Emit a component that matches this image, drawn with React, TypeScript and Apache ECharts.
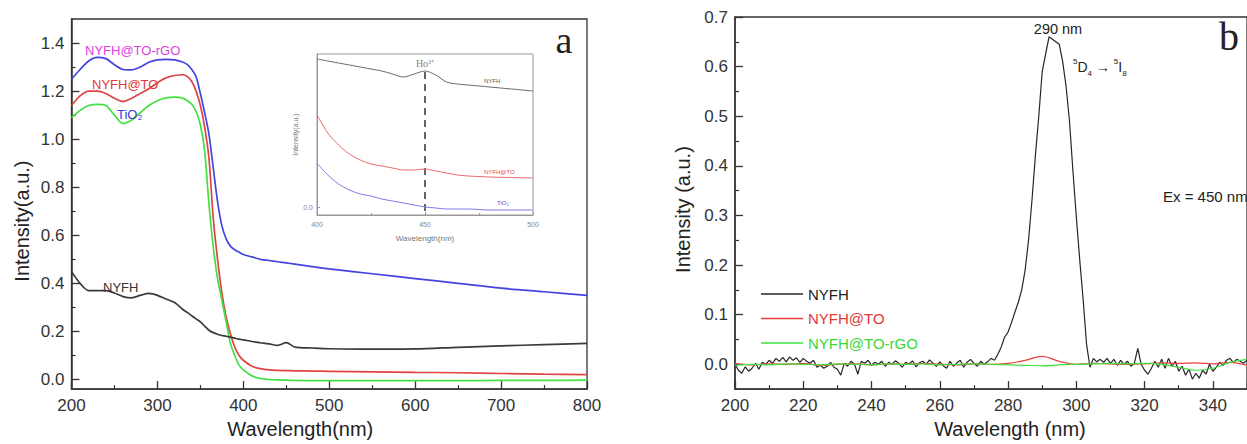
import React, { useEffect, useRef } from 'react';
import * as echarts from 'echarts';

// ---------- Panel a: UV-vis absorption ----------
const waveA = [200, 210, 220, 230, 240, 250, 260, 270, 280, 290, 300, 310, 320, 330, 335, 340, 345, 350, 355, 360, 365, 370, 375, 380, 385, 390, 395, 400, 410, 420, 430, 440, 450, 460, 480, 500, 550, 600, 650, 700, 750, 800];
const uvRGO = [1.25, 1.29, 1.325, 1.34, 1.335, 1.31, 1.29, 1.288, 1.30, 1.32, 1.33, 1.332, 1.33, 1.32, 1.31, 1.29, 1.26, 1.19, 1.11, 1.02, 0.88, 0.74, 0.64, 0.585, 0.555, 0.54, 0.53, 0.52, 0.51, 0.50, 0.495, 0.49, 0.485, 0.48, 0.47, 0.46, 0.44, 0.42, 0.40, 0.38, 0.365, 0.35];
const uvNYFHTO = [1.14, 1.18, 1.20, 1.20, 1.19, 1.17, 1.157, 1.17, 1.19, 1.21, 1.235, 1.255, 1.265, 1.268, 1.26, 1.24, 1.20, 1.14, 1.05, 0.92, 0.67, 0.50, 0.36, 0.26, 0.19, 0.135, 0.10, 0.08, 0.055, 0.045, 0.04, 0.038, 0.037, 0.036, 0.035, 0.034, 0.032, 0.03, 0.028, 0.025, 0.022, 0.02];
const uvTiO2 = [1.09, 1.12, 1.14, 1.145, 1.14, 1.10, 1.065, 1.08, 1.11, 1.14, 1.16, 1.172, 1.175, 1.17, 1.16, 1.145, 1.115, 1.06, 0.95, 0.73, 0.55, 0.42, 0.33, 0.24, 0.15, 0.10, 0.06, 0.04, 0.015, 0.004, 0.0, -0.002, -0.003, -0.004, -0.005, -0.005, -0.005, -0.005, -0.005, -0.004, -0.004, -0.003];
const uvNYFH = [0.45, 0.40, 0.37, 0.37, 0.37, 0.36, 0.345, 0.34, 0.35, 0.358, 0.35, 0.335, 0.32, 0.29, 0.278, 0.265, 0.252, 0.24, 0.222, 0.205, 0.195, 0.188, 0.183, 0.18, 0.176, 0.172, 0.168, 0.165, 0.158, 0.153, 0.148, 0.142, 0.153, 0.135, 0.131, 0.128, 0.126, 0.127, 0.134, 0.14, 0.145, 0.15];
const yTicksA = [0, 0.2, 0.4, 0.6, 0.8, 1.0, 1.2, 1.4];
const yMinorA = [0.1, 0.3, 0.5, 0.7, 0.9, 1.1, 1.3];

// ---------- Inset ----------
const waveInset = [400, 405, 410, 415, 420, 425, 430, 435, 440, 445, 450, 455, 460, 465, 470, 480, 490, 500];
const insetNYFH = [1.48, 1.46, 1.44, 1.42, 1.40, 1.38, 1.36, 1.33, 1.30, 1.33, 1.36, 1.32, 1.25, 1.23, 1.22, 1.20, 1.18, 1.16];
const insetNYFHTO = [0.92, 0.74, 0.62, 0.53, 0.47, 0.43, 0.41, 0.39, 0.37, 0.37, 0.38, 0.36, 0.34, 0.32, 0.31, 0.30, 0.295, 0.29];
const insetTiO2 = [0.44, 0.32, 0.23, 0.17, 0.13, 0.11, 0.08, 0.06, 0.04, 0.02, 0.0, -0.01, -0.02, -0.02, -0.02, -0.03, -0.03, -0.03];
const hoLine = { x: 450, top: 1.35, bottom: -0.08 };

// ---------- Panel b: PL emission ----------
const waveB = Array.from({ length: 151 }, (_, i) => 200 + i);
const plNYFH = [
  0.000, -0.012, -0.018, -0.005, -0.014, -0.008, 0.002, -0.010, 0.004, 0.000,
  0.008, 0.002, 0.012, 0.006, 0.014, 0.005, 0.015, 0.008, 0.013, 0.004,
  0.012, 0.006, 0.002, 0.008, -0.006, -0.002, -0.008, -0.004, 0.004, -0.006,
  -0.010, -0.022, 0.002, -0.004, 0.006, 0.000, -0.020, 0.006, 0.002, 0.008,
  -0.002, 0.004, 0.000, 0.006, -0.004, 0.004, 0.000, 0.007, 0.002, -0.006,
  0.004, 0.000, 0.007, -0.005, 0.003, 0.006, 0.000, 0.009, 0.002, -0.004,
  0.005, -0.003, -0.008, 0.006, -0.004, 0.003, 0.008, -0.006, 0.004, 0.010,
  0.002, -0.004, 0.006, 0.000, 0.005, 0.012, 0.008, 0.020, 0.035, 0.055,
  0.065, 0.084, 0.105, 0.125, 0.150, 0.190, 0.250, 0.330, 0.420, 0.500,
  0.590, 0.625, 0.660, 0.655, 0.650, 0.645, 0.610, 0.560, 0.490, 0.390,
  0.297, 0.210, 0.130, 0.040, -0.006, 0.012, 0.005, 0.010, 0.004, 0.012,
  0.002, 0.010, -0.002, 0.008, 0.000, 0.006, -0.004, 0.002, 0.032, 0.000,
  -0.012, -0.020, -0.008, 0.006, -0.006, 0.010, -0.008, 0.012, -0.004, 0.006,
  -0.014, -0.004, -0.022, -0.010, -0.030, -0.018, -0.028, -0.012, -0.020, 0.000,
  -0.014, -0.006, 0.004, -0.002, 0.008, 0.012, 0.004, 0.010, 0.006, 0.002, 0.008,
];
const waveB5 = [200, 205, 210, 215, 220, 225, 230, 235, 240, 245, 250, 255, 260, 265, 270, 275, 280, 285, 290, 295, 300, 305, 310, 315, 320, 325, 330, 335, 340, 345, 350];
const plNYFHTO = [0.002, -0.001, 0.001, 0.0, 0.002, -0.002, 0.0, 0.001, -0.001, 0.001, 0.0, 0.002, 0.0, -0.001, 0.001, 0.0, 0.002, 0.008, 0.016, 0.006, 0.0, 0.002, 0.001, 0.0, 0.001, 0.003, 0.002, 0.003, 0.001, 0.004, -0.002];
const plRGO = [-0.002, 0.0, -0.001, 0.001, 0.0, -0.001, 0.001, 0.0, -0.001, 0.001, 0.0, 0.001, -0.001, 0.0, 0.001, 0.0, -0.001, -0.002, -0.003, -0.001, 0.0, 0.001, 0.002, 0.001, 0.002, 0.0, -0.006, -0.012, -0.008, 0.004, 0.010];
const yTicksB = [0, 0.1, 0.2, 0.3, 0.4, 0.5, 0.6, 0.7];
const yMinorB = [0.05, 0.15, 0.25, 0.35, 0.45, 0.55, 0.65];

const FONT = '"Liberation Sans", Arial, sans-serif';
const SERIF = '"Liberation Serif", "Times New Roman", serif';
const AX = '#333';
const BLUE = '#4444e0';
const RED = '#e04444';
const GREEN = '#44e044';
const BLACK = '#3a3a3a';

const pair = (xs: number[], ys: number[]) => xs.map((x, i) => [x, ys[i]]);

function mainX(grid: number, min: number, max: number, interval: number, name: string, gap: number, pad: number[]) {
  return {
    type: 'value', gridIndex: grid, min, max, interval,
    axisLine: { onZero: false, lineStyle: { color: AX, width: 1.5 } },
    axisTick: { inside: true, length: 8, lineStyle: { color: AX, width: 1.3 } },
    minorTick: { show: true, splitNumber: 2, length: 4, lineStyle: { color: AX, width: 1.2 } },
    axisLabel: { fontSize: 17, color: '#333', fontFamily: FONT, margin: 8, showMaxLabel: grid === 0 },
    splitLine: { show: false }, minorSplitLine: { show: false },
    name, nameLocation: 'middle', nameGap: gap,
    nameTextStyle: { fontSize: 20, color: '#222', fontFamily: FONT, padding: pad },
  };
}

function mainY(grid: number, min: number, max: number, ticks: number[], name: string, gap: number, pad: number[]) {
  return {
    type: 'value', gridIndex: grid, min, max,
    axisLine: { show: true, onZero: false, lineStyle: { color: AX, width: 1.5 } },
    axisTick: { show: true, inside: true, length: 8, customValues: ticks, lineStyle: { color: AX, width: 1.3 } },
    axisLabel: { fontSize: 17, color: '#333', fontFamily: FONT, margin: 7, customValues: ticks, formatter: (v: number) => v.toFixed(1) },
    splitLine: { show: false },
    name, nameLocation: 'middle', nameGap: gap,
    nameTextStyle: { fontSize: 20, color: '#222', fontFamily: FONT, padding: pad },
  };
}

function minorY(grid: number, min: number, max: number, ticks: number[]) {
  return {
    type: 'value', gridIndex: grid, min, max, position: 'left',
    axisLine: { show: false, onZero: false },
    axisTick: { show: true, inside: true, length: 4, customValues: ticks, lineStyle: { color: AX, width: 1.2 } },
    axisLabel: { show: false },
    splitLine: { show: false },
  };
}

const lineA = (name: string, xs: number[], ys: number[], color: string) => ({
  type: 'line', name, xAxisIndex: 0, yAxisIndex: 0, data: pair(xs, ys),
  showSymbol: false, smooth: 0.3, lineStyle: { color, width: 1.7 }, itemStyle: { color }, z: 3,
});

const lineInset = (name: string, ys: number[], color: string, extra: any = {}) => ({
  type: 'line', name, xAxisIndex: 2, yAxisIndex: 4, data: pair(waveInset, ys),
  showSymbol: false, smooth: 0.3, lineStyle: { color, width: 1 }, itemStyle: { color }, z: 5, ...extra,
});

const lineB = (name: string, xs: number[], ys: number[], color: string, smooth: any) => ({
  type: 'line', name, xAxisIndex: 1, yAxisIndex: 2, data: pair(xs, ys),
  showSymbol: false, smooth, lineStyle: { color, width: 1.2 }, itemStyle: { color },
});

const txt = (x: number, y: number, text: string, fill: string, fontSize: number, align = 'left', family = FONT) => ({
  type: 'text', x, y, z: 10,
  style: { text, fill, fontSize, fontFamily: family, align, verticalAlign: 'middle' },
});

const option: any = {
  animation: false,
  backgroundColor: '#fff',
  grid: [
    { left: 71.5, top: 19, width: 515.5, height: 374, show: true, borderColor: AX, borderWidth: 1.3 },
    { left: 735, top: 17, width: 515.4, height: 377, show: true, borderColor: AX, borderWidth: 1.3 },
    { left: 317, top: 54, width: 216, height: 161, show: true, borderColor: '#999', borderWidth: 1, backgroundColor: '#fff', z: 4 },
  ],
  xAxis: [
    mainX(0, 200, 800, 100, 'Wavelength(nm)', 28, [0, 58, 0, 0]),
    mainX(1, 200, 350, 20, 'Wavelength (nm)', 26, [0, 0, 0, 38]),
    {
      type: 'value', gridIndex: 2, min: 400, max: 500, interval: 50, z: 5,
      axisLine: { onZero: false, lineStyle: { color: '#999', width: 1 } },
      axisTick: { inside: true, length: 3, lineStyle: { color: '#999' } },
      minorTick: { show: true, splitNumber: 2, length: 2, lineStyle: { color: '#999' } },
      axisLabel: { fontSize: 7, color: '#888', fontFamily: FONT, margin: 6 },
      splitLine: { show: false }, minorSplitLine: { show: false },
      name: 'Wavelength(nm)', nameLocation: 'middle', nameGap: 19,
      nameTextStyle: { fontSize: 8, color: '#777', fontFamily: FONT },
    },
  ],
  yAxis: [
    mainY(0, -0.04, 1.5, yTicksA, 'Intensity(a.u.)', 40, [0, 34, 0, 0]),
    minorY(0, -0.04, 1.5, yMinorA),
    mainY(1, -0.05, 0.7, yTicksB, 'Intensity (a.u.)', 42, [0, 13, 0, 0]),
    minorY(1, -0.05, 0.7, yMinorB),
    {
      type: 'value', gridIndex: 2, min: -0.08, max: 1.53, z: 5,
      axisLine: { show: true, onZero: false, lineStyle: { color: '#999', width: 1 } },
      axisTick: { show: true, inside: true, length: 3, customValues: [0], lineStyle: { color: '#999' } },
      axisLabel: { fontSize: 7, color: '#888', fontFamily: FONT, margin: 4, customValues: [0], formatter: (v: number) => v.toFixed(1) },
      splitLine: { show: false },
      name: 'Intensity(a.u.)', nameLocation: 'middle', nameGap: 12,
      nameTextStyle: { fontSize: 7, color: '#777', fontFamily: FONT },
    },
  ],
  legend: {
    left: 756, top: 280, orient: 'vertical', icon: 'rect', itemWidth: 42, itemHeight: 1.5, itemGap: 6.5,
    textStyle: { fontSize: 15, fontFamily: FONT, lineHeight: 18 },
    data: [
      { name: 'NYFH', textStyle: { color: '#222' } },
      { name: 'NYFH@TO', textStyle: { color: '#e03838' } },
      { name: 'NYFH@TO-rGO', textStyle: { color: '#38d838' } },
    ],
  },
  series: [
    lineA('a-NYFH@TO-rGO', waveA, uvRGO, BLUE),
    lineA('a-NYFH@TO', waveA, uvNYFHTO, RED),
    lineA('a-TiO2', waveA, uvTiO2, GREEN),
    lineA('a-NYFH', waveA, uvNYFH, BLACK),
    lineInset('inset-NYFH', insetNYFH, '#6a6a6a', {
      markLine: {
        silent: true, symbol: ['none', 'none'], label: { show: false },
        lineStyle: { color: '#333', width: 1.5, type: [7, 5] },
        data: [[{ coord: [hoLine.x, hoLine.top] }, { coord: [hoLine.x, hoLine.bottom] }]],
      },
    }),
    lineInset('inset-NYFH@TO', insetNYFHTO, '#ec6a6a'),
    lineInset('inset-TiO2', insetTiO2, '#7a7ae6'),
    lineB('NYFH', waveB, plNYFH, '#262626', false),
    lineB('NYFH@TO', waveB5, plNYFHTO, '#e84040', 0.4),
    lineB('NYFH@TO-rGO', waveB5, plRGO, '#40e040', 0.4),
  ],
  graphic: [
    txt(85, 50, 'NYFH@TO-rGO', '#e040e0', 13),
    txt(92, 84, 'NYFH@TO', '#e03838', 13),
    txt(117, 114, 'TiO₂', '#3838d8', 13),
    txt(103, 287, 'NYFH', '#333', 13),
    txt(564, 40, 'a', '#222', 38, 'center', SERIF),
    txt(425, 63, 'Ho³⁺', '#888', 10, 'center', SERIF),
    txt(484, 81, 'NYFH', '#555', 6),
    txt(484, 172, 'NYFH@TO', '#e05050', 6),
    txt(497, 203, 'TiO₂', '#5050d8', 6),
    txt(1058, 29, '290 nm', '#222', 14.5, 'center'),
    {
      type: 'text', x: 1073, y: 67, z: 10,
      style: {
        text: '{sup|5}{m|D}{sub|4}{m| → }{sup|5}{m|I}{sub|8}',
        verticalAlign: 'middle', align: 'left',
        rich: {
          m: { fontSize: 14, fontFamily: FONT, fill: '#222', lineHeight: 20 },
          sup: { fontSize: 8, fontFamily: FONT, fill: '#222', verticalAlign: 'top', lineHeight: 20 },
          sub: { fontSize: 8, fontFamily: FONT, fill: '#222', verticalAlign: 'bottom', lineHeight: 14 },
        },
      },
    },
    txt(1163, 196, 'Ex = 450 nm', '#222', 15),
    txt(1229, 36, 'b', '#222', 40, 'center', SERIF),
  ],
};

export default function App() {
  const ref = useRef<HTMLDivElement>(null);
  useEffect(() => {
    const chart = echarts.init(ref.current!, null, { renderer: 'svg' });
    chart.setOption(option);
    return () => chart.dispose();
  }, []);
  return <div ref={ref} style={{ position: 'absolute', left: 0, top: 0, width: 1247, height: 444, background: '#fff' }} />;
}
